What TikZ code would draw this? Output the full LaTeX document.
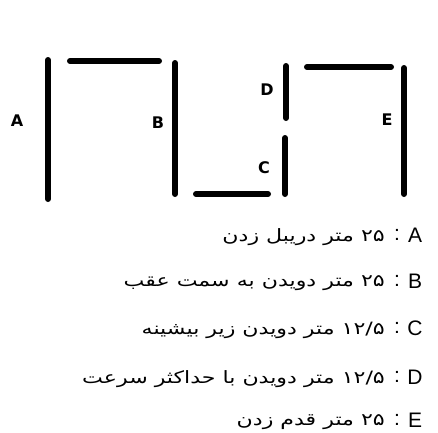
\documentclass[tikz,border=0pt]{standalone}
\usepackage{fontspec}
\setmainfont{Liberation Sans}
\newfontfamily\tagfont{DejaVu Sans}
\newfontfamily\arabicfont[Script=Arabic, FakeStretch=1.3]{DejaVu Sans}
\TeXXeTstate=1
\usetikzlibrary{positioning}

\begin{document}
\begin{tikzpicture}[
  x=1pt, y=-1pt,
  bar/.style={line width=6pt, line cap=round},
  tag/.style={font=\tagfont\bfseries\fontsize{16}{16}\selectfont, inner sep=0pt},
  key/.style={font=\fontsize{21}{21}\selectfont, inner sep=0pt},
  desc/.style={font=\arabicfont\fontsize{17}{19}\selectfont, inner sep=0pt, anchor=east}
]
\useasboundingbox (0,0) rectangle (438,432);

% course
\draw[bar] (48,60) -- (48,199);
\draw[bar] (70,61) -- (159,61);
\draw[bar] (175,63) -- (175,194);
\draw[bar] (196,194) -- (268,194);
\draw[bar] (285,138) -- (285,194);
\draw[bar] (286,66) -- (286,118);
\draw[bar] (307,67) -- (391,67);
\draw[bar] (404,68) -- (404,194);

\node[tag] (tagA) at (17,121) {A};
\node[tag] (tagB) at (158,123) {B};
\node[tag] (tagD) at (267,90) {D};
\node[tag] (tagC) at (264,168) {C};
\node[tag] (tagE) at (387,120) {E};

% legend
\node[key] (keyA) at (415,235) {A};
\node[key] (colA) at (397,235) {:};
\node[desc] (descA) at (385,237) {\beginR ۲۵ متر دریبل زدن\endR};

\node[key] (keyB) at (415,281) {B};
\node[key] (colB) at (397,281) {:};
\node[desc] (descB) at (385,283) {\beginR ۲۵ متر دویدن به سمت عقب\endR};

\node[key] (keyC) at (415,328) {C};
\node[key] (colC) at (397,328) {:};
\node[desc] (descC) at (385,330) {\beginR \beginL ۱۲/۵\endL{} متر دویدن زیر بیشینه\endR};

\node[key] (keyD) at (415,377) {D};
\node[key] (colD) at (397,377) {:};
\node[desc] (descD) at (385,379) {\beginR \beginL ۱۲/۵\endL{} متر دویدن با حداکثر سرعت\endR};

\node[key] (keyE) at (415,420) {E};
\node[key] (colE) at (397,420) {:};
\node[desc] (descE) at (385,422) {\beginR ۲۵ متر قدم زدن\endR};
\end{tikzpicture}
\end{document}
